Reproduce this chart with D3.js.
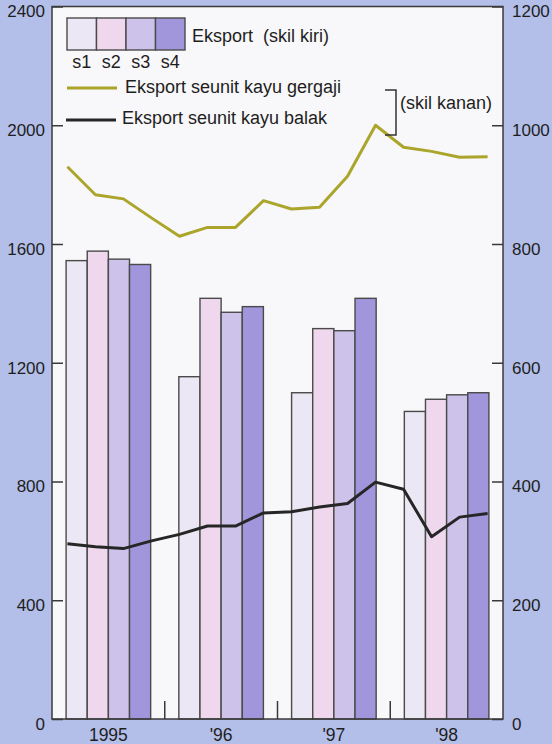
<!DOCTYPE html>
<html>
<head>
<meta charset="utf-8">
<script src="https://cdn.jsdelivr.net/npm/d3@7"></script>
<style>
  html, body { margin: 0; padding: 0; background: #b3bfe8; }
  svg { display: block; }
  text { font-family: "Liberation Sans", Arial, Helvetica, sans-serif; fill: #1e1e1e; }
</style>
</head>
<body>
<svg id="chart" width="552" height="744"></svg>
<script>
// ---- data ----
const years = ["1995", "'96", "'97", "'98"];
const seriesNames = ["s1", "s2", "s3", "s4"];
const s1 = [1544, 1153, 1099, 1036];
const s2 = [1576, 1417, 1315, 1077];
const s3 = [1549, 1370, 1308, 1092];
const s4 = [1531, 1389, 1417, 1099];
const quarters = ["95Q1","95Q2","95Q3","95Q4","96Q1","96Q2","96Q3","96Q4",
                  "97Q1","97Q2","97Q3","97Q4","98Q1","98Q2","98Q3","98Q4"];
const gergaji = [930, 883, 876, 844, 813, 828, 828, 873, 859, 862, 914, 1000, 963, 956, 946, 947];
const balak   = [295, 290, 287, 300, 311, 325, 325, 347, 349, 357, 363, 399, 387, 307, 340, 346];
const leftTicks = [0, 400, 800, 1200, 1600, 2000, 2400];
const rightTicks = [0, 200, 400, 600, 800, 1000, 1200];

// ---- styles ----
const barColors = ["#ece7f4", "#efd8ee", "#cdc2ea", "#a196dc"];
const gergajiColor = "#aba52c";
const balakColor = "#262626";
const axisColor = "#3a3a3a";

const svg = d3.select("#chart");
const L = 52, R = 503, T = 6.5, B = 719;

const yL = d3.scaleLinear().domain([0, 2400]).range([B, T]);
const yR = d3.scaleLinear().domain([0, 1200]).range([B, T]);
const x0 = d3.scaleBand().domain(years).range([L, R]).paddingInner(0.25).paddingOuter(0.125);
const x1 = d3.scaleBand().domain(seriesNames).range([0, x0.bandwidth()]);
const xq = d3.scalePoint().domain(quarters).range([L, R]).padding(0.55);

// plot background
svg.append("rect").attr("x", L).attr("y", T).attr("width", R - L).attr("height", B - T)
  .attr("fill", "#f8f7f9");

// bars
const seriesVals = [s1, s2, s3, s4];
const barData = [];
years.forEach((yr, i) => seriesNames.forEach((s, j) => barData.push({ yr, s, j, v: seriesVals[j][i] })));
svg.append("g").selectAll("rect").data(barData).join("rect")
  .attr("x", d => x0(d.yr) + x1(d.s))
  .attr("y", d => yL(d.v))
  .attr("width", x1.bandwidth())
  .attr("height", d => B - yL(d.v))
  .attr("fill", d => barColors[d.j])
  .attr("stroke", "#4a4a4a").attr("stroke-width", 1.4);

// lines
const line = d3.line().x((d, i) => xq(quarters[i])).y(d => yR(d));
svg.append("path").datum(gergaji).attr("d", line)
  .attr("fill", "none").attr("stroke", gergajiColor).attr("stroke-width", 3).attr("stroke-linejoin", "round");
svg.append("path").datum(balak).attr("d", line)
  .attr("fill", "none").attr("stroke", balakColor).attr("stroke-width", 3).attr("stroke-linejoin", "round");

// frame
svg.append("rect").attr("x", L).attr("y", T).attr("width", R - L).attr("height", B - T)
  .attr("fill", "none").attr("stroke", axisColor).attr("stroke-width", 1.5);

// axes (ticks point inward)
const leftAxis = d3.axisLeft(yL).tickValues(leftTicks).tickSize(-11).tickPadding(7).tickFormat(d3.format("d"));
const gl = svg.append("g").attr("transform", `translate(${L},0)`).call(leftAxis);
const rightAxis = d3.axisRight(yR).tickValues(rightTicks).tickSize(-11).tickPadding(9).tickFormat(d3.format("d"));
const gr = svg.append("g").attr("transform", `translate(${R},0)`).call(rightAxis);
[gl, gr].forEach(g => {
  g.select(".domain").remove();
  g.selectAll(".tick line").attr("stroke", axisColor).attr("stroke-width", 1.5);
  g.selectAll(".tick text").attr("font-size", 17).attr("dy", "0.72em").attr("y", -2).attr("fill", "#1e1e1e");
});

// bottom axis: ticks between years
const bottomAxis = d3.axisBottom(x0).tickSize(0).tickPadding(9);
const gb = svg.append("g").attr("transform", `translate(0,${B})`).call(bottomAxis);
gb.select(".domain").remove();
gb.selectAll(".tick text").attr("font-size", 17.5).attr("fill", "#1e1e1e").attr("dy", "0.75em");
const boundaries = years.slice(1).map(y => x0(y) - x0.step() * x0.paddingInner() / 2);
svg.append("g").selectAll("line").data(boundaries).join("line")
  .attr("x1", d => d).attr("x2", d => d).attr("y1", B).attr("y2", B - 18)
  .attr("stroke", axisColor).attr("stroke-width", 1.5);

// legend
const lg = svg.append("g");
const swW = 29.5, swX = 67, swY = 18, swH = 32;
seriesNames.forEach((s, j) => {
  lg.append("rect").attr("x", swX + j * swW).attr("y", swY).attr("width", swW).attr("height", swH)
    .attr("fill", barColors[j]).attr("stroke", "#4a4a4a").attr("stroke-width", 1.4);
  lg.append("text").attr("x", swX + j * swW + swW / 2).attr("y", swY + swH + 18)
    .attr("text-anchor", "middle").attr("font-size", 18).text(s);
});
lg.append("text").attr("x", 192).attr("y", 42).attr("font-size", 18).text("Eksport\u00a0\u00a0(skil kiri)");
lg.append("line").attr("x1", 67).attr("x2", 117).attr("y1", 88).attr("y2", 88)
  .attr("stroke", gergajiColor).attr("stroke-width", 3);
lg.append("text").attr("x", 125).attr("y", 93).attr("font-size", 18).text("Eksport seunit kayu gergaji");
lg.append("line").attr("x1", 66).attr("x2", 116).attr("y1", 120).attr("y2", 120)
  .attr("stroke", balakColor).attr("stroke-width", 3);
lg.append("text").attr("x", 122).attr("y", 124).attr("font-size", 18).text("Eksport seunit kayu balak");
lg.append("path").attr("d", "M385,90 H396 V135 H385")
  .attr("fill", "none").attr("stroke", "#333").attr("stroke-width", 1.5);
lg.append("text").attr("x", 400).attr("y", 109).attr("font-size", 18).text("(skil kanan)");
</script>
</body>
</html>
